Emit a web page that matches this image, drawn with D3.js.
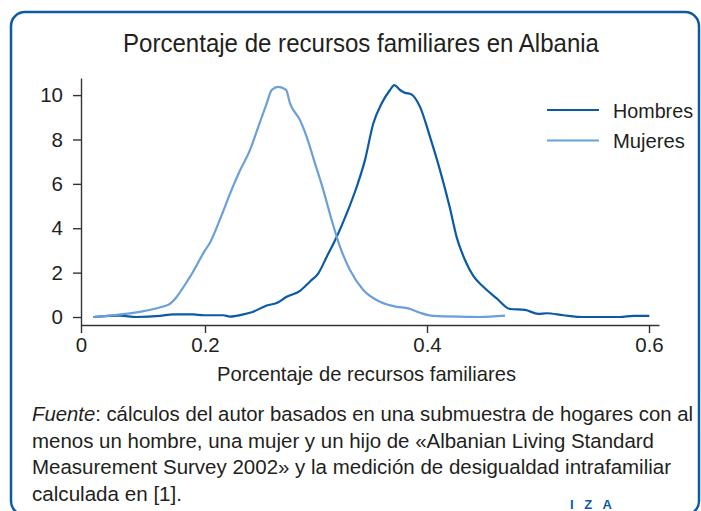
<!DOCTYPE html>
<html>
<head>
<meta charset="utf-8">
<script src="https://cdn.jsdelivr.net/npm/d3@7"></script>
<style>
  body { margin: 0; background: #fff; }
  text { font-family: "Liberation Sans", Arial, sans-serif; fill: #231f20; }
</style>
</head>
<body>
<div id="chart"></div>
<script>
// Density of household resource share
const hombresX = [0.0198, 0.0629, 0.0898, 0.1274, 0.1489, 0.1811, 0.1973, 0.2165, 0.2225, 0.2345, 0.2435,
  0.2556, 0.2646, 0.2736, 0.2856, 0.2946, 0.3021, 0.3097, 0.3187, 0.3277, 0.3367, 0.3441, 0.3516, 0.3592,
  0.3667, 0.3705, 0.3757, 0.3802, 0.3853, 0.3937, 0.4027, 0.4117, 0.4207, 0.4267, 0.4342, 0.4417, 0.4507,
  0.4628, 0.4748, 0.4883, 0.5003, 0.5078, 0.5228, 0.5408, 0.5739, 0.5859, 0.6003];
const hombresY = [0, 0.06, 0, 0.05, 0.12, 0.12, 0.08, 0.08, 0.02, 0.12, 0.24,
  0.52, 0.63, 0.91, 1.18, 1.6, 1.97, 2.72, 3.62, 4.67, 5.87, 7.07, 8.72, 9.63,
  10.23, 10.45, 10.23, 10.1, 10.05, 9.47, 8.12, 6.62, 4.9, 3.6, 2.57, 1.85, 1.36,
  0.84, 0.36, 0.32, 0.14, 0.17, 0.08, 0, 0, 0.05, 0.05];

const mujeresX = [0.0198, 0.138, 0.176, 0.2, 0.2045, 0.2135, 0.2225, 0.2315, 0.2405, 0.248, 0.2556,
  0.2601, 0.266, 0.273, 0.2766, 0.2856, 0.2916, 0.2991, 0.3066, 0.3141, 0.3216, 0.3306, 0.3426,
  0.3577, 0.3727, 0.3832, 0.3937, 0.4057, 0.4358, 0.4477, 0.4703];
const mujeresY = [0, 0.52, 1.82, 3.0, 3.35, 4.4, 5.55, 6.6, 7.52, 8.57, 9.63,
  10.23, 10.37, 10.23, 9.63, 8.87, 8.12, 6.92, 5.72, 4.37, 3.17, 2.12, 1.22,
  0.69, 0.46, 0.39, 0.19, 0.05, 0.01, 0, 0.06];

const xTicks = [0, 0.2, 0.4, 0.6];
const yTicks = [0, 2, 4, 6, 8, 10];
const seriesNames = ["Hombres", "Mujeres"];

const titleText = "Porcentaje de recursos familiares en Albania";
const xTitle = "Porcentaje de recursos familiares";
const noteLines = [
  ":  cálculos del autor basados en una submuestra de hogares con al",
  "menos un hombre, una mujer y un hijo de «Albanian Living Standard",
  "Measurement Survey 2002» y la medición de desigualdad intrafamiliar",
  "calculada en [1]."
];

const W = 701, H = 511;
const colors = { Hombres: "#0b5aa6", Mujeres: "#6a9fd9" };

const svg = d3.select("#chart").append("svg")
  .attr("width", W).attr("height", H);

svg.append("rect").attr("width", W).attr("height", H).attr("fill", "#fff");

// rounded frame, bottom edge runs off the picture
svg.append("rect")
  .attr("x", 11).attr("y", 12)
  .attr("width", 688).attr("height", 503)
  .attr("rx", 14)
  .attr("fill", "none")
  .attr("stroke", "#0b5aa6")
  .attr("stroke-width", 2.5);

// scales (x axis of the original is compressed between 0 and 0.2)
const x = d3.scaleLinear().domain([0, 0.2, 0.609]).range([81, 205, 659]);
const y = d3.scaleLinear().domain([-0.36, 10.77]).range([325, 78]);

const xAxis = d3.axisBottom(x).tickValues(xTicks).tickSize(8).tickSizeOuter(0).tickPadding(4)
  .tickFormat(d => d === 0 ? "0" : d3.format(".1f")(d));
const yAxis = d3.axisLeft(y).tickValues(yTicks).tickSize(8).tickSizeOuter(0).tickPadding(10);

const gx = svg.append("g").attr("transform", "translate(0,325)").call(xAxis);
const gy = svg.append("g").attr("transform", "translate(81,0)").call(yAxis);

[gx, gy].forEach(g => {
  g.selectAll("path, line").attr("stroke", "#333").attr("stroke-width", 1.4);
  g.selectAll("text").attr("font-size", 20.5).attr("fill", "#231f20")
    .style("font-family", "'Liberation Sans', Arial, sans-serif");
});

// lines
const line = d3.line()
  .x(d => x(d[0]))
  .y(d => y(d[1]))
  .curve(d3.curveMonotoneX);

const series = [
  { name: "Hombres", pts: d3.zip(hombresX, hombresY) },
  { name: "Mujeres", pts: d3.zip(mujeresX, mujeresY) }
];

svg.selectAll("path.serie")
  .data(series)
  .enter().append("path")
  .attr("class", "serie")
  .attr("d", d => line(d.pts))
  .attr("fill", "none")
  .attr("stroke", d => colors[d.name])
  .attr("stroke-width", 2.2)
  .attr("stroke-linejoin", "round");

// legend
const legend = svg.append("g");
seriesNames.forEach((name, i) => {
  const ly = 110 + i * 30.5;
  legend.append("line")
    .attr("x1", 547).attr("x2", 599).attr("y1", ly).attr("y2", ly)
    .attr("stroke", colors[name]).attr("stroke-width", 2.2);
  legend.append("text")
    .attr("x", 613).attr("y", ly).attr("dy", "0.36em")
    .attr("font-size", 21)
    .attr("textLength", name === "Hombres" ? 80 : 72).attr("lengthAdjust", "spacingAndGlyphs")
    .text(name);
});

// titles
svg.append("text")
  .attr("x", 361).attr("y", 52)
  .attr("text-anchor", "middle")
  .attr("font-size", 26)
  .attr("textLength", 476).attr("lengthAdjust", "spacingAndGlyphs")
  .text(titleText);

svg.append("text")
  .attr("x", 366.5).attr("y", 381)
  .attr("text-anchor", "middle")
  .attr("font-size", 21)
  .attr("textLength", 299).attr("lengthAdjust", "spacingAndGlyphs")
  .text(xTitle);

// source note
const noteWidths = [661, 622, 639, 150];
noteLines.forEach((t, i) => {
  const txt = svg.append("text")
    .attr("x", 32).attr("y", 421 + i * 26.5)
    .attr("font-size", 20.5)
    .attr("textLength", noteWidths[i]).attr("lengthAdjust", "spacingAndGlyphs");
  if (i === 0) {
    txt.append("tspan").attr("font-style", "italic").text("Fuente");
  }
  txt.append("tspan").text(t);
});

// IZA mark
svg.append("text")
  .attr("x", 570).attr("y", 509)
  .attr("font-size", 13).attr("font-weight", "bold")
  .attr("textLength", 42).attr("lengthAdjust", "spacing")
  .style("fill", "#0b5aa6")
  .text("IZA");
</script>
</body>
</html>
